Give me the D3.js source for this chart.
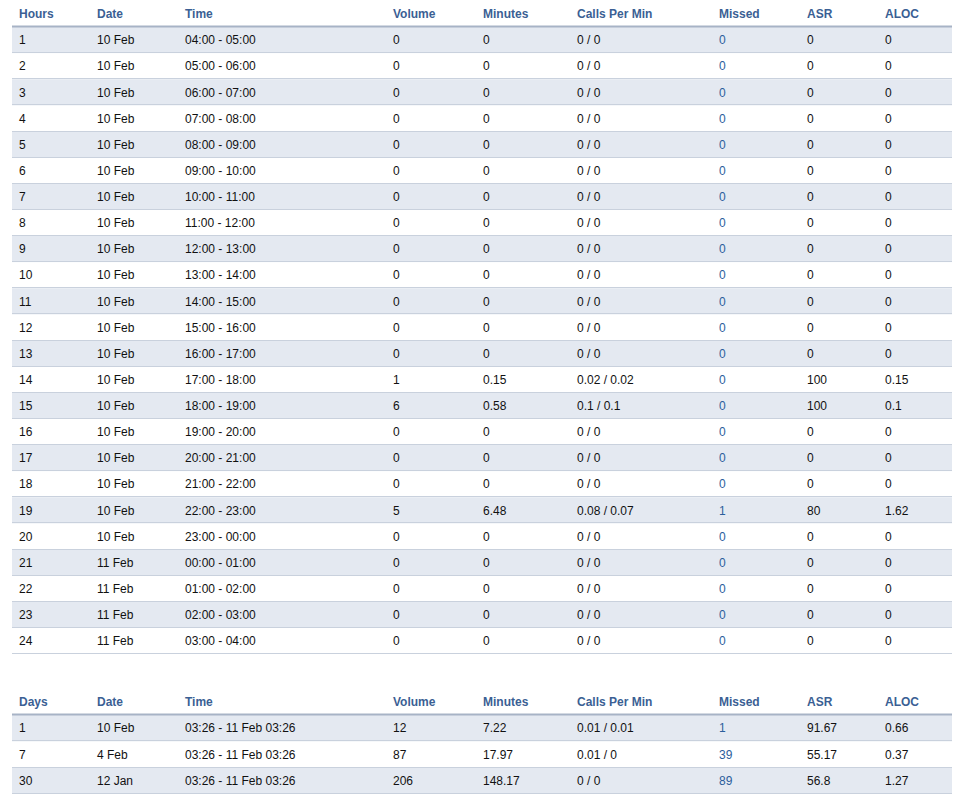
<!DOCTYPE html>
<meta charset="utf-8">
<style>
body { margin: 0; background: #fff; }
text { font-family: "Liberation Sans", Arial, sans-serif; font-size: 12px; fill: #111; }
.head text { font-weight: bold; fill: #3b5f94; }
.missed { fill: #2c5e9c; }
</style>
<body>
<svg width="963" height="806"></svg>
</body>
<script src="https://d3js.org/d3.v7.min.js"></script>
<script>
// hourly table
const hourHeaders = ["Hours", "Date", "Time", "Volume", "Minutes", "Calls Per Min", "Missed", "ASR", "ALOC"];
const hours = d3.range(1, 25).map(String);
const hourDates = ["10 Feb","10 Feb","10 Feb","10 Feb","10 Feb","10 Feb","10 Feb","10 Feb","10 Feb","10 Feb",
    "10 Feb","10 Feb","10 Feb","10 Feb","10 Feb","10 Feb","10 Feb","10 Feb","10 Feb","10 Feb",
    "11 Feb","11 Feb","11 Feb","11 Feb"];
const hourTimes = ["04:00 - 05:00","05:00 - 06:00","06:00 - 07:00","07:00 - 08:00","08:00 - 09:00",
    "09:00 - 10:00","10:00 - 11:00","11:00 - 12:00","12:00 - 13:00","13:00 - 14:00","14:00 - 15:00",
    "15:00 - 16:00","16:00 - 17:00","17:00 - 18:00","18:00 - 19:00","19:00 - 20:00","20:00 - 21:00",
    "21:00 - 22:00","22:00 - 23:00","23:00 - 00:00","00:00 - 01:00","01:00 - 02:00","02:00 - 03:00",
    "03:00 - 04:00"];
const hourVolume  = [0,0,0,0,0,0,0,0,0,0,0,0,0,1,6,0,0,0,5,0,0,0,0,0];
const hourMinutes = [0,0,0,0,0,0,0,0,0,0,0,0,0,0.15,0.58,0,0,0,6.48,0,0,0,0,0];
const hourCpm     = ["0 / 0","0 / 0","0 / 0","0 / 0","0 / 0","0 / 0","0 / 0","0 / 0","0 / 0","0 / 0",
    "0 / 0","0 / 0","0 / 0","0.02 / 0.02","0.1 / 0.1","0 / 0","0 / 0","0 / 0","0.08 / 0.07","0 / 0",
    "0 / 0","0 / 0","0 / 0","0 / 0"];
const hourMissed  = [0,0,0,0,0,0,0,0,0,0,0,0,0,0,0,0,0,0,1,0,0,0,0,0];
const hourAsr     = [0,0,0,0,0,0,0,0,0,0,0,0,0,100,100,0,0,0,80,0,0,0,0,0];
const hourAloc    = [0,0,0,0,0,0,0,0,0,0,0,0,0,0.15,0.1,0,0,0,1.62,0,0,0,0,0];

// daily table
const dayHeaders = ["Days", "Date", "Time", "Volume", "Minutes", "Calls Per Min", "Missed", "ASR", "ALOC"];
const days       = ["1", "7", "30"];
const dayDates   = ["10 Feb", "4 Feb", "12 Jan"];
const dayTimes   = ["03:26 - 11 Feb 03:26", "03:26 - 11 Feb 03:26", "03:26 - 11 Feb 03:26"];
const dayVolume  = [12, 87, 206];
const dayMinutes = [7.22, 17.97, 148.17];
const dayCpm     = ["0.01 / 0.01", "0.01 / 0", "0 / 0"];
const dayMissed  = [1, 39, 89];
const dayAsr     = [91.67, 55.17, 56.8];
const dayAloc    = [0.66, 0.37, 1.27];

const svg = d3.select("svg");
const colX = d3.scaleOrdinal().domain(d3.range(9)).range([19, 97, 185, 393, 483, 577, 719, 807, 885]);
const left = 12, right = 952;

function drawTable(headers, cols, headTop, headBottom, bodyBottom) {
    const n = cols[0].length;
    const rows = d3.range(n).map(i => cols.map(c => String(c[i])));
    const y = d3.scaleBand().domain(d3.range(n)).range([headBottom, bodyBottom]);
    const g = svg.append("g");

    g.selectAll("rect.stripe")
        .data(rows.filter((r, i) => i % 2 === 0).map((r, k) => k * 2))
        .enter().append("rect")
        .attr("x", left).attr("width", right - left)
        .attr("y", i => y(i)).attr("height", y.bandwidth())
        .attr("fill", "#e4e9f1");

    g.selectAll("line.row")
        .data(d3.range(n))
        .enter().append("line")
        .attr("x1", left).attr("x2", right)
        .attr("y1", i => Math.round(y(i) + y.bandwidth()) - 0.5)
        .attr("y2", i => Math.round(y(i) + y.bandwidth()) - 0.5)
        .attr("stroke", "#c9d1dd");

    g.append("line")
        .attr("x1", left).attr("x2", right)
        .attr("y1", headBottom - 0.5).attr("y2", headBottom - 0.5)
        .attr("stroke", "#a7b3c6").attr("stroke-width", 2);

    const head = g.append("g").attr("class", "head");
    head.selectAll("text")
        .data(headers)
        .enter().append("text")
        .attr("x", (d, j) => colX(j))
        .attr("y", (headTop + headBottom) / 2)
        .attr("dy", "0.35em")
        .text(d => d);

    const body = g.selectAll("g.row")
        .data(rows)
        .enter().append("g")
        .attr("transform", (d, i) => `translate(0, ${y(i) + y.bandwidth() / 2})`);
    body.selectAll("text")
        .data(d => d)
        .enter().append("text")
        .attr("class", (d, j) => j === 6 ? "missed" : null)
        .attr("x", (d, j) => colX(j))
        .attr("dy", "0.35em")
        .text(d => d);
}

drawTable(hourHeaders,
    [hours, hourDates, hourTimes, hourVolume, hourMinutes, hourCpm, hourMissed, hourAsr, hourAloc],
    1, 27, 654);
drawTable(dayHeaders,
    [days, dayDates, dayTimes, dayVolume, dayMinutes, dayCpm, dayMissed, dayAsr, dayAloc],
    688, 715, 794);
</script>
